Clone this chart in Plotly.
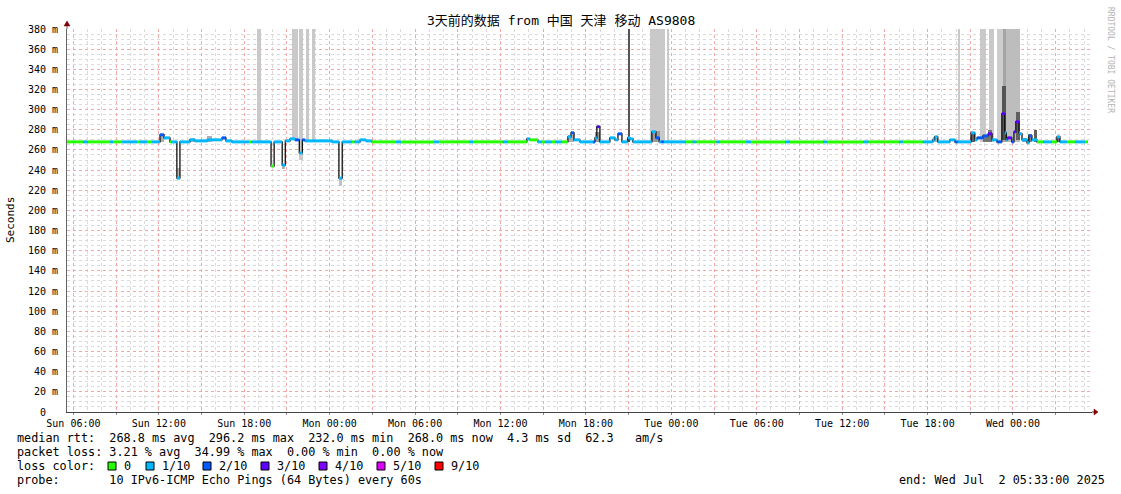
import pandas as pd
import plotly.graph_objects as go

# ---------------- data ----------------
med_time = [
    "2025-06-29 05:33", "2025-06-29 06:40", "2025-06-29 07:00", "2025-06-29 08:35", "2025-06-29 08:47",
    "2025-06-29 09:25", "2025-06-29 10:28", "2025-06-29 10:40", "2025-06-29 11:10", "2025-06-29 11:31",
    "2025-06-29 12:05", "2025-06-29 12:22", "2025-06-29 12:47", "2025-06-29 12:52", "2025-06-29 13:16",
    "2025-06-29 13:29", "2025-06-29 14:11", "2025-06-29 14:32", "2025-06-29 15:23", "2025-06-29 16:26",
    "2025-06-29 16:43", "2025-06-29 17:08", "2025-06-29 18:20", "2025-06-29 18:30", "2025-06-29 19:53",
    "2025-06-29 20:06", "2025-06-29 20:40", "2025-06-29 20:53", "2025-06-29 21:13", "2025-06-29 21:34",
    "2025-06-29 21:52", "2025-06-29 22:05", "2025-06-29 22:16", "2025-06-30 00:10", "2025-06-30 00:39",
    "2025-06-30 00:53", "2025-06-30 01:34", "2025-06-30 01:45", "2025-06-30 02:08", "2025-06-30 02:33",
    "2025-06-30 02:58", "2025-06-30 04:40", "2025-06-30 05:00", "2025-06-30 07:20", "2025-06-30 07:40",
    "2025-06-30 09:50", "2025-06-30 10:05", "2025-06-30 12:10", "2025-06-30 12:30", "2025-06-30 13:51",
    "2025-06-30 14:04", "2025-06-30 14:38", "2025-06-30 14:55", "2025-06-30 15:07", "2025-06-30 15:37",
    "2025-06-30 15:50", "2025-06-30 16:19", "2025-06-30 16:44", "2025-06-30 16:57", "2025-06-30 17:10",
    "2025-06-30 17:35", "2025-06-30 18:30", "2025-06-30 18:38", "2025-06-30 18:46", "2025-06-30 18:59",
    "2025-06-30 19:41", "2025-06-30 20:02", "2025-06-30 20:15", "2025-06-30 20:32", "2025-06-30 20:56",
    "2025-06-30 21:06", "2025-06-30 21:18", "2025-06-30 22:38", "2025-06-30 22:55", "2025-06-30 23:09",
    "2025-06-30 23:18", "2025-06-30 23:28", "2025-07-01 01:00", "2025-07-01 01:30", "2025-07-01 01:45",
    "2025-07-01 03:10", "2025-07-01 03:25", "2025-07-01 05:15", "2025-07-01 05:35", "2025-07-01 08:00",
    "2025-07-01 08:20", "2025-07-01 10:40", "2025-07-01 10:55", "2025-07-01 13:30", "2025-07-01 13:50",
    "2025-07-01 16:00", "2025-07-01 16:15", "2025-07-01 17:40", "2025-07-01 18:22", "2025-07-01 18:30",
    "2025-07-01 18:43", "2025-07-01 19:34", "2025-07-01 19:55", "2025-07-01 20:08", "2025-07-01 21:03",
    "2025-07-01 21:19", "2025-07-01 21:28", "2025-07-01 21:53", "2025-07-01 22:15", "2025-07-01 22:32",
    "2025-07-01 22:52", "2025-07-01 23:13", "2025-07-01 23:25", "2025-07-01 23:32", "2025-07-01 23:37",
    "2025-07-01 23:55", "2025-07-02 00:04", "2025-07-02 00:12", "2025-07-02 00:25", "2025-07-02 00:29",
    "2025-07-02 00:38", "2025-07-02 00:59", "2025-07-02 01:07", "2025-07-02 01:20", "2025-07-02 01:41",
    "2025-07-02 02:06", "2025-07-02 02:44", "2025-07-02 03:05", "2025-07-02 03:18", "2025-07-02 03:47",
    "2025-07-02 04:21", "2025-07-02 05:03", "2025-07-02 05:16",
]
med_value = [
    268, 268, 268, 268, 268, 268, 268, 268, 268, 268,
    275, 272, 268, 268, 232, 268, 270, 269, 270, 272,
    269, 268, 268, 268, 244, 268, 245, 269, 271, 270,
    257, 270, 269, 268, 232, 268, 268, 268, 270, 269,
    268, 268, 268, 268, 268, 268, 268, 268, 268, 271,
    270, 268, 268, 268, 268, 268, 268, 273, 277, 270,
    268, 268, 272, 283, 268, 272, 270, 276, 268, 272,
    271, 268, 278, 272, 268, 268, 268, 268, 268, 268,
    268, 268, 268, 268, 268, 268, 268, 268, 268, 268,
    268, 268, 268, 270, 273, 268, 270, 268, 268, 277,
    270, 272, 274, 276, 270, 268, 296, 277, 270, 272,
    268, 278, 288, 277, 276, 270, 267, 274, 270, 268,
    268, 268, 273, 268, 268, 268, 268, 268,
]
med_loss = [
    0, 1, 0, 1, 0, 1, 0, 1, 0, 1,
    2, 1, 0, 1, 1, 1, 1, 1, 1, 2,
    1, 1, 0, 1, 0, 1, 1, 1, 1, 2,
    1, 2, 1, 1, 1, 1, 0, 1, 1, 1,
    0, 1, 0, 1, 0, 1, 0, 1, 0, 1,
    0, 1, 0, 1, 0, 1, 0, 1, 2, 1,
    1, 2, 1, 3, 1, 1, 1, 2, 1, 1,
    1, 1, 1, 2, 1, 2, 1, 0, 1, 0,
    1, 0, 1, 0, 1, 0, 1, 0, 1, 0,
    1, 0, 1, 1, 1, 1, 1, 2, 1, 1,
    1, 2, 2, 3, 1, 2, 3, 1, 1, 3,
    2, 3, 3, 1, 1, 1, 1, 2, 1, 0,
    1, 0, 1, 1, 0, 1, 0, 0,
]

smoke_start = [
    "2025-06-29 12:05", "2025-06-29 13:16", "2025-06-29 14:11", "2025-06-29 15:23", "2025-06-29 18:55",
    "2025-06-29 20:40", "2025-06-29 21:21", "2025-06-29 21:52", "2025-06-29 22:19", "2025-06-29 22:44",
    "2025-06-30 00:39", "2025-06-30 16:44", "2025-06-30 18:38", "2025-06-30 20:56", "2025-06-30 22:30",
    "2025-06-30 23:41", "2025-06-30 22:38", "2025-07-01 18:22", "2025-07-01 20:08", "2025-07-01 21:03",
    "2025-07-01 21:40", "2025-07-01 22:19", "2025-07-01 22:52", "2025-07-01 23:17", "2025-07-01 23:30",
    "2025-07-01 23:15", "2025-07-02 00:12", "2025-07-01 21:53", "2025-07-01 22:15", "2025-07-02 01:28",
    "2025-07-02 01:03", "2025-07-02 00:37", "2025-07-02 03:05",
]
smoke_end = [
    "2025-06-29 12:22", "2025-06-29 13:29", "2025-06-29 14:32", "2025-06-29 15:44", "2025-06-29 19:12",
    "2025-06-29 20:53", "2025-06-29 21:45", "2025-06-29 22:06", "2025-06-29 22:33", "2025-06-29 22:58",
    "2025-06-30 00:53", "2025-06-30 17:10", "2025-06-30 19:00", "2025-06-30 21:04", "2025-06-30 23:35",
    "2025-06-30 23:49", "2025-06-30 23:11", "2025-07-01 18:43", "2025-07-01 20:16", "2025-07-01 21:19",
    "2025-07-01 22:06", "2025-07-01 22:40", "2025-07-01 23:17", "2025-07-01 23:30", "2025-07-02 00:29",
    "2025-07-01 23:30", "2025-07-02 00:29", "2025-07-01 22:15", "2025-07-01 22:32", "2025-07-02 01:41",
    "2025-07-02 01:20", "2025-07-02 00:59", "2025-07-02 03:18",
]
smoke_low = [
    268, 232, 268, 268, 268, 241, 270, 250, 270, 270,
    224, 268, 268, 268, 269, 269, 268, 268, 268, 268,
    268, 268, 268, 268, 268, 270, 270, 268, 268, 268,
    268, 268, 268,
]
smoke_high = [
    274, 242, 272, 274, 380, 245, 380, 380, 380, 380,
    232, 275, 278, 380, 380, 380, 279, 273, 380, 277,
    380, 380, 380, 380, 380, 323, 298, 275, 280, 280,
    276, 272, 273,
]
smoke_density = [
    0.40, 0.35, 0.35, 0.40, 0.27, 0.40, 0.27, 0.27, 0.27, 0.27,
    0.30, 0.40, 0.50, 0.85, 0.27, 0.27, 0.50, 0.40, 0.27, 0.80,
    0.27, 0.27, 0.25, 0.45, 0.33, 0.85, 0.80, 0.70, 0.70, 0.80,
    0.60, 0.50, 0.70,
]

loss_levels = [0, 1, 2, 3, 4, 5, 9]
loss_labels = ["0", "1/10", "2/10", "3/10", "4/10", "5/10", "9/10"]
loss_colors = ["#26ff00", "#00b8ff", "#0059ff", "#5e00ff", "#7e00ff", "#dd00ff", "#ff0000"]

rtt_stats = [268.8, 296.2, 232.0, 268.0]   # avg, max, min, now (ms)
rtt_sd = 4.3
rtt_ams = 62.3
loss_stats = [3.21, 34.99, 0.00, 0.00]     # avg, max, min, now (%)
probe_text = "10 IPv6-ICMP Echo Pings (64 Bytes) every 60s"
end_text = "end: Wed Jul  2 05:33:00 2025"
title_text = "3天前的数据 from 中国 天津 移动 AS9808"

x_start, x_end = "2025-06-29 05:33", "2025-07-02 05:33"
y_ticks = list(range(0, 381, 20))
y_ticktext = [f"{v} m" if v else "0\u00a0\u00a0" for v in y_ticks]
y_minor = [v for v in range(0, 381, 5) if v % 20]
x_tick_times = pd.date_range("2025-06-29 06:00", "2025-07-02 03:00", freq="3h")
x_ticktext = [t.strftime("%a %H:%M") if t.hour % 6 == 0 else "" for t in x_tick_times]
x_minor = [t for t in pd.date_range("2025-06-29 06:00", "2025-07-02 05:00", freq="1h") if t.hour % 3]

# ---------------- figure ----------------
MONO = "DejaVu Sans Mono, Noto Sans CJK SC, monospace"
W, H = 1121, 494
L, R, T, B = 67, 29, 29, 82
PW, PH = W - L - R, H - T - B
MAJOR_GRID = "#f3a8a8"
MINOR_GRID = "#dadada"


def px_x(px):
    return (px - L) / PW


def px_y(py):
    return (H - B - py) / PH


def nb(s):
    return s.replace(" ", "\u00a0")


fig = go.Figure()

# smoke
s0 = pd.to_datetime(pd.Series(smoke_start))
s1 = pd.to_datetime(pd.Series(smoke_end))
sm = pd.DataFrame({
    "c": s0 + (s1 - s0) / 2,
    "w": (s1 - s0).dt.total_seconds() * 1000,
    "lo": smoke_low, "hi": smoke_high, "d": smoke_density,
}).sort_values("d", kind="stable")
sm_colors = [f"rgb({int(255 - 200 * d)},{int(255 - 200 * d)},{int(255 - 200 * d)})" for d in sm["d"]]
fig.add_trace(go.Bar(
    x=sm["c"], y=sm["hi"] - sm["lo"], base=sm["lo"], width=sm["w"],
    marker=dict(color=sm_colors, line=dict(width=0)), hoverinfo="skip",
))

# median outline
t = pd.to_datetime(pd.Series(med_time))
fig.add_trace(go.Scatter(
    x=t, y=med_value, mode="lines",
    line=dict(color="#111111", width=1.3, shape="hv"), hoverinfo="skip",
))

# median coloured by loss
for lvl, col in zip(loss_levels, loss_colors):
    xs, ys = [], []
    for i in range(len(t) - 1):
        if med_loss[i] == lvl:
            xs += [t[i], t[i + 1], None]
            ys += [med_value[i], med_value[i], None]
    if xs:
        fig.add_trace(go.Scatter(x=xs, y=ys, mode="lines",
                                 line=dict(color=col, width=3), hoverinfo="skip"))

fig.update_layout(
    width=W, height=H, margin=dict(l=L, r=R, t=T, b=B, pad=0),
    plot_bgcolor="white", paper_bgcolor="white", showlegend=False,
    barmode="overlay", bargap=0, hovermode=False,
    font=dict(family=MONO, color="black"),
)

fig.update_xaxes(
    type="date", range=[x_start, x_end], fixedrange=True,
    tickmode="array", tickvals=x_tick_times, ticktext=x_ticktext,
    showgrid=True, gridcolor=MAJOR_GRID, gridwidth=1, griddash="dot",
    minor=dict(tickmode="array", tickvals=x_minor, showgrid=True,
               gridcolor=MINOR_GRID, griddash="dot", gridwidth=1, ticks=""),
    showline=True, linecolor="#444444", linewidth=1,
    ticks="outside", ticklen=2, tickcolor="#888888", ticklabelstandoff=0,
    tickfont=dict(family=MONO, size=10, color="#000000"),
    zeroline=False,
)
fig.update_yaxes(
    range=[0, 380], fixedrange=True,
    tickmode="array", tickvals=y_ticks, ticktext=y_ticktext,
    showgrid=True, gridcolor=MAJOR_GRID, gridwidth=1, griddash="dot",
    minor=dict(tickmode="array", tickvals=y_minor, showgrid=True, gridcolor=MINOR_GRID,
               griddash="dot", gridwidth=1, ticks=""),
    showline=True, linecolor="#666666", linewidth=1,
    ticks="", ticklabelstandoff=6,
    tickfont=dict(family=MONO, size=10, color="#000000"),
    zeroline=False,
)

shapes = []
ann = []
# title
ann.append(dict(text=title_text, x=px_x(560.5), y=px_y(21), xref="paper", yref="paper",
                xanchor="center", yanchor="middle", showarrow=False,
                font=dict(family=MONO, size=13, color="black")))
# y axis title
ann.append(dict(text="Seconds", x=px_x(10), y=px_y(220), xref="paper", yref="paper",
                xanchor="center", yanchor="middle", showarrow=False, textangle=-90,
                font=dict(family=MONO, size=11, color="black")))
# watermark
ann.append(dict(text="RRDTOOL / TOBI OETIKER", x=px_x(1110), y=px_y(60), xref="paper", yref="paper",
                xanchor="center", yanchor="middle", showarrow=False, textangle=90,
                font=dict(family=MONO, size=8, color="#b4b4b4")))

row1 = ("median rtt:  {:.1f} ms avg  {:.1f} ms max  {:.1f} ms min  {:.1f} ms now  "
        "{:.1f} ms sd  {:.1f}   am/s").format(*rtt_stats, rtt_sd, rtt_ams)
row2 = "packet loss: {:.2f} % avg  {:.2f} % max  {:.2f} % min  {:.2f} % now".format(*loss_stats)
row4 = "probe:       " + probe_text
legend_font = dict(family=MONO, size=11.8, color="black")
for txt, py in [(row1, 438), (row2, 452), ("loss color:", 466), (row4, 480)]:
    ann.append(dict(text=nb(txt), x=px_x(16), y=px_y(py), xref="paper", yref="paper",
                    xanchor="left", yanchor="middle", showarrow=False, borderpad=0,
                    font=legend_font))
ann.append(dict(text=nb(end_text), x=px_x(1106), y=px_y(480), xref="paper", yref="paper",
                xanchor="right", yanchor="middle", showarrow=False, borderpad=0, font=legend_font))

sq_x = [108, 146, 203, 261, 319, 377, 435]
for sx, lab, col in zip(sq_x, loss_labels, loss_colors):
    shapes.append(dict(type="rect", xref="paper", yref="paper", xsizemode="pixel", ysizemode="pixel",
                       xanchor=0, yanchor=0, x0=sx - L, x1=sx - L + 8, y0=-(470 - 412), y1=-(462 - 412),
                       fillcolor=col, line=dict(color="black", width=1)))
    ann.append(dict(text=lab, x=px_x(sx + 15), y=px_y(466), xref="paper", yref="paper",
                    xanchor="left", yanchor="middle", showarrow=False, borderpad=0, font=legend_font))

# axis arrows
shapes.append(dict(type="line", xref="paper", yref="paper", xsizemode="pixel", ysizemode="pixel",
                   xanchor=0, yanchor=1, x0=0, x1=0, y0=0, y1=4, line=dict(color="#666666", width=1)))
shapes.append(dict(type="path", xref="paper", yref="paper", xsizemode="pixel", ysizemode="pixel",
                   xanchor=0, yanchor=1, path="M -3,3 L 3,3 L 0,8 Z",
                   fillcolor="#800000", line=dict(color="#800000", width=0.5)))
shapes.append(dict(type="line", xref="paper", yref="paper", xsizemode="pixel", ysizemode="pixel",
                   xanchor=1, yanchor=0, x0=0, x1=2, y0=0, y1=0, line=dict(color="#444444", width=1)))
shapes.append(dict(type="path", xref="paper", yref="paper", xsizemode="pixel", ysizemode="pixel",
                   xanchor=1, yanchor=0, path="M 2,-3 L 2,3 L 6,0 Z",
                   fillcolor="#800000", line=dict(color="#800000", width=0.5)))

fig.update_layout(annotations=ann, shapes=shapes)

fig.write_html("out.html", config={"displayModeBar": False, "staticPlot": True},
               post_script="document.body.style.margin='0';")
